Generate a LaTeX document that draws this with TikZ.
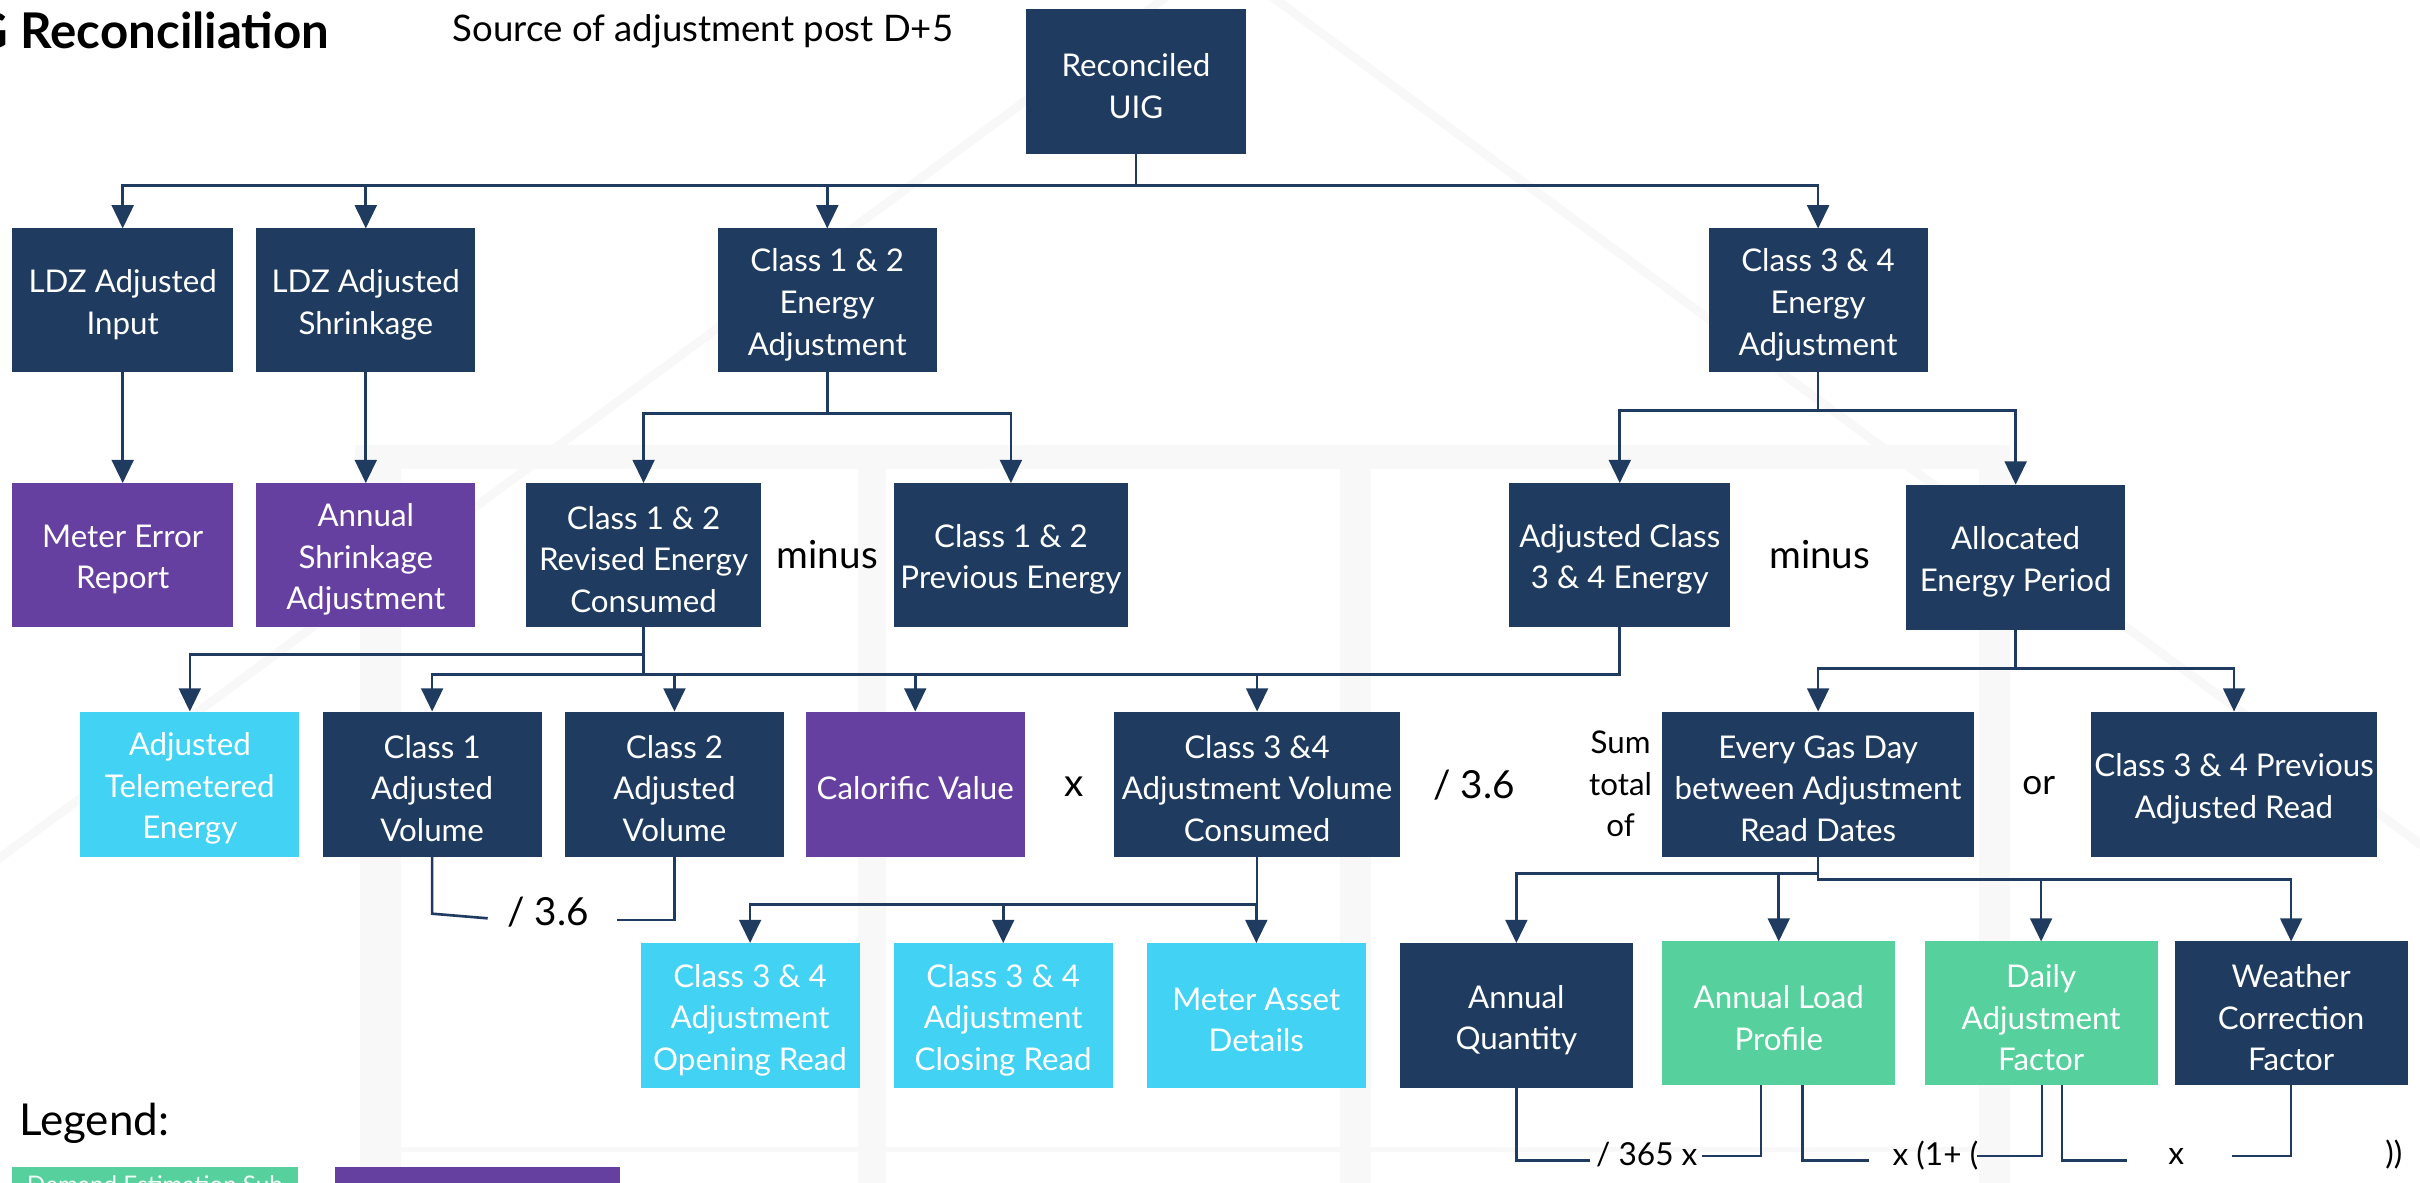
\documentclass[tikz,border=0pt]{standalone}
\usepackage{fontspec}
\setmainfont{Lato}
\usetikzlibrary{arrows.meta}
\definecolor{navy}{HTML}{1F3C60}
\definecolor{purp}{HTML}{6640A0}
\definecolor{cyanb}{HTML}{42D2F4}
\definecolor{greenb}{HTML}{56D09C}
\definecolor{wm}{HTML}{F8F8F9}
\newcommand\bx[7]{\node[boxfill, fill=#6, minimum width={(#4-#2)*0.015434cm}, minimum height={(#5-#3)*0.015434cm}] (#1) at ({(#2+#4)/2},{(#3+#5)/2}) {};
\node[nbox, yshift=-0.045cm] (#1-t) at (#1.center) {#7};}
\begin{document}
\begin{tikzpicture}[x=0.015434cm,y=-0.015434cm,
  boxfill/.style={inner sep=0pt, outer sep=0pt, draw=none},
  nbox/.style={inner sep=0pt, outer sep=0pt, text=white, align=center, font=\fontsize{8.9}{11.85}\selectfont},
  lbl/.style={inner sep=0pt, text=black, align=center, font=\fontsize{11}{13}\selectfont},
  flbl/.style={inner sep=0pt, text=black, font=\fontsize{9}{11}\selectfont},
  arr/.style={draw=navy, line width=0.75pt, -{Triangle[width=6.2pt,length=6.6pt]}},
  ln/.style={draw=navy, line width=0.75pt},
  wmline/.style={draw=wm, line width=2.5pt}]
\useasboundingbox (0,0) rectangle (1568,766);
\clip (0,0) rectangle (1568,766);
\fill[white] (0,0) rectangle (1568,766);
% faint watermark
\draw[wmline] (780,-20) -- (-60,600);
\draw[wmline] (800,-20) -- (1640,600);
\fill[wm] (230,288) rectangle (1302,304);
\foreach \a/\b in {233/260, 556/574, 868/888, 1282/1302}{\fill[wm] (\a,288) rectangle (\b,770);}
\draw[wm, line width=1.5pt] (260,745) -- (1282,745);
% title texts
\node[inner sep=0pt, anchor=east, font=\fontsize{14}{16}\selectfont\bfseries] (title) at (214,20) {G Reconciliation};
\node[lbl, anchor=west, font=\fontsize{10.4}{12}\selectfont] (src) at (293,20) {Source of adjustment post D+5};
% boxes
\bx{uig}{665}{6}{807}{100}{navy}{Reconciled\\UIG}
\bx{ldzin}{8}{148}{151}{241}{navy}{LDZ Adjusted\\Input}
\bx{ldzsh}{166}{148}{308}{241}{navy}{LDZ Adjusted\\Shrinkage}
\bx{c12}{465}{148}{607}{241}{navy}{Class 1 \& 2\\Energy\\Adjustment}
\bx{c34}{1107}{148}{1249}{241}{navy}{Class 3 \& 4\\Energy\\Adjustment}
\bx{mer}{8}{313}{151}{406}{purp}{Meter Error\\Report}
\bx{asa}{166}{313}{308}{406}{purp}{Annual\\Shrinkage\\Adjustment}
\bx{rev}{341}{313}{493}{406}{navy}{Class 1 \& 2\\Revised Energy\\Consumed}
\bx{prev}{579}{313}{731}{406}{navy}{Class 1 \& 2\\Previous Energy}
\bx{adj34}{978}{313}{1121}{406}{navy}{Adjusted Class\\3 \& 4 Energy}
\bx{alloc}{1235}{314}{1377}{408}{navy}{Allocated\\Energy Period}
\bx{tel}{52}{461}{194}{555}{cyanb}{Adjusted\\Telemetered\\Energy}
\bx{cl1}{209}{461}{351}{555}{navy}{Class 1\\Adjusted\\Volume}
\bx{cl2}{366}{461}{508}{555}{navy}{Class 2\\Adjusted\\Volume}
\bx{cv}{522}{461}{664}{555}{purp}{Calorific Value}
\bx{vol34}{722}{461}{907}{555}{navy}{Class 3 \&4\\Adjustment Volume\\Consumed}
\bx{gas}{1077}{461}{1279}{555}{navy}{Every Gas Day\\between Adjustment\\Read Dates}
\bx{prevread}{1355}{461}{1540}{555}{navy}{Class 3 \& 4 Previous\\Adjusted Read}
\bx{open}{415}{611}{557}{705}{cyanb}{Class 3 \& 4\\Adjustment\\Opening Read}
\bx{close}{579}{611}{721}{705}{cyanb}{Class 3 \& 4\\Adjustment\\Closing Read}
\bx{mad}{743}{611}{885}{705}{cyanb}{Meter Asset\\Details}
\bx{aq}{907}{611}{1058}{705}{navy}{Annual\\Quantity}
\bx{alp}{1077}{610}{1228}{703}{greenb}{Annual Load\\Profile}
\bx{daf}{1247}{610}{1398}{703}{greenb}{Daily\\Adjustment\\Factor}
\bx{wcf}{1409}{610}{1560}{703}{navy}{Weather\\Correction\\Factor}
% legend
\node[inner sep=0pt, anchor=west, font=\fontsize{12.5}{14}\selectfont] (legend) at (12,728) {Legend:};
\node[boxfill, fill=greenb, minimum width={185*0.015434cm}, minimum height={30*0.015434cm}, anchor=north west] (leg1) at (8,756) {};
\node[inner sep=0pt, anchor=north west, text=white!92!greenb, font=\fontsize{6.9}{8}\selectfont] (leg1t) at (17,761) {Demand Estimation Sub};
\node[boxfill, fill=purp, minimum width={185*0.015434cm}, minimum height={30*0.015434cm}, anchor=north west] (leg2) at (217,756) {};
% free labels
\node[lbl] (m1) at (536,359) {minus};
\node[lbl] (m2) at (1179,359) {minus};
\node[lbl] (x1) at (696,510) {x};
\node[lbl] (d1) at (955,509) {/ 3.6};
\node[nbox, text=black] (sum) at (1050,508) {Sum\\total\\of};
\node[lbl, font=\fontsize{10}{12}\selectfont] (or) at (1321,509) {or};
\node[lbl] (d2) at (355,591) {/ 3.6};
\node[flbl] (f365) at (1067,748) {/ 365 x};
\node[flbl] (f1p) at (1254,749) {x (1+ (};
\node[flbl] (fx) at (1410,749) {x};
\node[flbl] (fcl) at (1551,748) {))};
% connectors level 1
\foreach \c in {ldzin, ldzsh, c12, c34}{\draw[arr] (uig.south) -- (uig.south |- 0,120) -| (\c.north);}
\draw[arr] (ldzin) -- (mer);
\draw[arr] (ldzsh) -- (asa);
\foreach \c in {rev, prev}{\draw[arr] (c12.south) -- (c12.south |- 0,268) -| (\c.north);}
\foreach \c in {adj34, alloc}{\draw[arr] (c34.south) -- (c34.south |- 0,266) -| (\c.north);}
% level 3
\draw[arr] (rev.south) -- (rev.south |- 0,424) -| (tel.north);
\foreach \c in {cl1, cl2, cv, vol34}{\draw[arr] (rev.south) -- (rev.south |- 0,437) -| (\c.north);}
\draw[ln] (adj34.south) |- (vol34.north |- 0,437);
\foreach \c in {gas, prevread}{\draw[arr] (alloc.south) -- (alloc.south |- 0,433) -| (\c.north);}
% level 4
\foreach \c in {open, close, mad}{\draw[arr] (vol34.south) -- (vol34.south |- 0,586) -| (\c.north);}
\draw[arr] (gas.south) -- (gas.south |- 0,566) -| (aq.north);
\draw[arr] (gas.south) -- (gas.south |- 0,566) -| (alp.north);
\draw[arr] (gas.south) -- (gas.south |- 0,570) -| (daf.north);
\draw[arr] (gas.south) -- (gas.south |- 0,570) -| (wcf.north);
% divide by 3.6 brackets
\coordinate (g1) at (316,595);
\coordinate (g2) at (400,596);
\draw[ln] (cl1.south) -- (cl1.south |- 0,592) -- (g1);
\draw[ln] (g2) -| (cl2.south);
% bottom formula
\coordinate (h1) at (1030,752);
\coordinate (h2) at (1103,749);
\coordinate (h3) at (1211,752);
\coordinate (h4) at (1281,749);
\coordinate (h5) at (1378,752);
\coordinate (h6) at (1446,749);
\draw[ln] (aq.south) |- (h1);
\draw[ln] (h2) -| (alp.south -| 1141,0);
\draw[ln] (alp.south -| 1168,0) |- (h3);
\draw[ln] (h4) -| (daf.south -| 1323,0);
\draw[ln] (daf.south -| 1336,0) |- (h5);
\draw[ln] (h6) -| (wcf.south);
\end{tikzpicture}
\end{document}
